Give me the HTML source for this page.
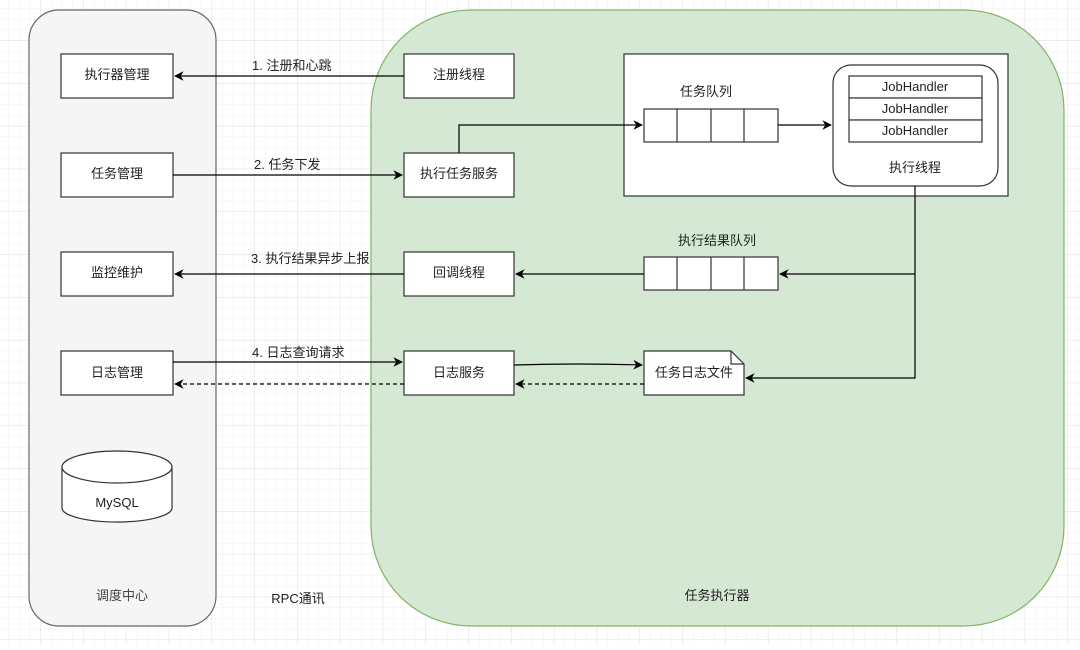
<!DOCTYPE html>
<html><head><meta charset="utf-8"><style>
html,body{margin:0;padding:0;background:#fff}
svg text{font-family:"Liberation Sans","Noto Sans CJK SC",sans-serif;font-size:13px;fill:#222}
</style></head><body>
<svg width="1080" height="645" viewBox="0 0 1080 645" xmlns="http://www.w3.org/2000/svg">
<defs>
<pattern id="g" width="10.7" height="10.7" patternUnits="userSpaceOnUse" x="-2" y="-2">
<path d="M10.7 0V10.7M0 10.7H10.7" stroke="#efefef" stroke-width="1" fill="none"/></pattern>
<pattern id="G" width="42.8" height="42.8" patternUnits="userSpaceOnUse" x="-2" y="-2">
<path d="M42.8 0V42.8M0 42.8H42.8" stroke="#e2e2e2" stroke-width="1" fill="none"/></pattern>
<marker id="a" viewBox="0 0 10 10" refX="9" refY="5" markerWidth="8" markerHeight="8" orient="auto"><path d="M0 0L10 5L0 10L3 5Z" fill="#000"/></marker>
</defs>
<rect width="1080" height="645" fill="url(#g)"/>
<rect width="1080" height="645" fill="url(#G)"/>
<rect x="29" y="10" width="187" height="616" rx="30" fill="#f5f5f5" stroke="#666" stroke-width="1.2"/>
<rect x="371" y="10" width="693" height="616" rx="100" fill="#d5e8d4" stroke="#82b366" stroke-width="1.2"/>
<g fill="#fff" stroke="#333" stroke-width="1.2">
<rect x="61" y="54" width="112" height="44"/><rect x="61" y="153" width="112" height="44"/>
<rect x="61" y="252" width="112" height="44"/><rect x="61" y="351" width="112" height="44"/>
<rect x="404" y="54" width="110" height="44"/><rect x="404" y="153" width="110" height="44"/>
<rect x="404" y="252" width="110" height="44"/><rect x="404" y="351" width="110" height="44"/>
<rect x="624" y="54" width="384" height="142"/>
<rect x="833" y="65" width="165" height="121" rx="18"/>
<rect x="849" y="76" width="133" height="22"/><rect x="849" y="98" width="133" height="22"/><rect x="849" y="120" width="133" height="22"/>
<rect x="644" y="109" width="134" height="33"/><rect x="644" y="257" width="134" height="33"/>
<path d="M677 109V142M711 109V142M744 109V142M677 257V290M711 257V290M744 257V290" fill="none"/>
<path d="M644 351H731L744 364V395H644Z"/><path d="M731 351V364H744" fill="none"/>
<path d="M62 467V508A55 14 0 0 0 172 508V467"/>
<ellipse cx="117" cy="467" rx="55" ry="16"/>
</g>
<g stroke="#000" stroke-width="1.2" fill="none">
<path d="M404 76H175" marker-end="url(#a)"/>
<path d="M173 175H402" marker-end="url(#a)"/>
<path d="M404 274H175" marker-end="url(#a)"/>
<path d="M173 362H402" marker-end="url(#a)"/>
<path d="M404 384H175" stroke-dasharray="4 3" marker-end="url(#a)"/>
<path d="M644 384H516" stroke-dasharray="4 3" marker-end="url(#a)"/>
<path d="M514 365Q580 363 642 365" marker-end="url(#a)"/>
<path d="M459 153V125H642" marker-end="url(#a)"/>
<path d="M778 125H831" marker-end="url(#a)"/>
<path d="M915 186V378H746" marker-end="url(#a)"/>
<path d="M915 274H780" marker-end="url(#a)"/>
<path d="M644 274H516" marker-end="url(#a)"/>
</g>
<g text-anchor="middle">
<text x="117" y="79">执行器管理</text><text x="117" y="178">任务管理</text>
<text x="117" y="277">监控维护</text><text x="117" y="377">日志管理</text>
<text x="117" y="507">MySQL</text>
<text x="459" y="79">注册线程</text><text x="459" y="178">执行任务服务</text>
<text x="459" y="277">回调线程</text><text x="459" y="377">日志服务</text>
<text x="706" y="96">任务队列</text><text x="717" y="245">执行结果队列</text>
<text x="915" y="91">JobHandler</text><text x="915" y="113">JobHandler</text><text x="915" y="135">JobHandler</text>
<text x="915" y="172">执行线程</text>
<text x="694" y="377">任务日志文件</text>
<text x="122" y="600" style="fill:#444">调度中心</text>
<text x="298" y="603">RPC通讯</text>
<text x="717" y="600">任务执行器</text>
</g>
<g font-size="12">
<text x="252" y="70">1. 注册和心跳</text>
<text x="254" y="169">2. 任务下发</text>
<text x="251" y="263">3. 执行结果异步上报</text>
<text x="252" y="357">4. 日志查询请求</text>
</g>
</svg>
</body></html>
